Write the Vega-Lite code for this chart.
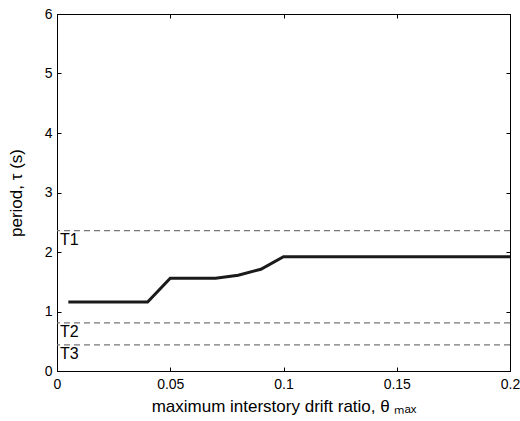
{
  "$schema": "https://vega.github.io/schema/vega-lite/v6.json",
  "width": 453,
  "height": 357,
  "autosize": {"type": "none"},
  "padding": {"left": 57, "top": 14, "right": 10, "bottom": 50},
  "background": "white",
  "config": {
    "view": {"stroke": "black", "strokeWidth": 1},
    "font": "Liberation Sans",
    "axis": {
      "grid": false,
      "domainColor": "black",
      "domainWidth": 1,
      "tickColor": "black",
      "tickWidth": 1,
      "labelColor": "black",
      "titleColor": "black",
      "labelFont": "Liberation Sans",
      "titleFont": "Liberation Sans",
      "labelFontSize": 14,
      "titleFontSize": 17,
      "titleFontWeight": "normal",
      "labelFlush": false,
      "labelOverlap": false
    }
  },
  "datasets": {
    "curve": [
      {"drift": 0.005, "period": 1.16},
      {"drift": 0.04, "period": 1.16},
      {"drift": 0.05, "period": 1.56},
      {"drift": 0.07, "period": 1.56},
      {"drift": 0.08, "period": 1.61},
      {"drift": 0.09, "period": 1.71},
      {"drift": 0.1, "period": 1.92},
      {"drift": 0.2, "period": 1.92}
    ],
    "modes": [
      {"name": "T1", "T": 2.36},
      {"name": "T2", "T": 0.81},
      {"name": "T3", "T": 0.44}
    ]
  },
  "layer": [
    {
      "data": {"name": "modes"},
      "mark": {"type": "rule", "color": "#777777", "strokeWidth": 1.3, "strokeDash": [6, 4]},
      "encoding": {
        "y": {
          "field": "T", "type": "quantitative",
          "scale": {"domain": [0, 6], "nice": false},
          "axis": {"orient": "right", "labels": false, "title": null, "tickSize": -4, "values": [0, 1, 2, 3, 4, 5, 6], "domain": true}
        }
      }
    },
    {
      "data": {"name": "modes"},
      "mark": {"type": "text", "align": "left", "baseline": "top", "dx": 3, "dy": 1, "fontSize": 16, "font": "Liberation Sans", "color": "black"},
      "encoding": {
        "x": {
          "datum": 0, "type": "quantitative",
          "scale": {"domain": [0, 0.2], "nice": false},
          "axis": {"orient": "top", "labels": false, "title": null, "tickSize": -4, "values": [0, 0.05, 0.1, 0.15, 0.2], "domain": true}
        },
        "y": {"field": "T", "type": "quantitative", "axis": null},
        "text": {"field": "name"}
      }
    },
    {
      "data": {"name": "curve"},
      "mark": {"type": "line", "color": "#1a1a1a", "strokeWidth": 3, "strokeJoin": "miter"},
      "encoding": {
        "x": {
          "field": "drift", "type": "quantitative",
          "scale": {"domain": [0, 0.2], "nice": false},
          "axis": {"orient": "bottom", "title": "maximum interstory drift ratio, θ ₘₐₓ", "values": [0, 0.05, 0.1, 0.15, 0.2], "format": "~g", "tickSize": -4, "labelPadding": 10, "titlePadding": 7}
        },
        "y": {
          "field": "period", "type": "quantitative",
          "scale": {"domain": [0, 6], "nice": false},
          "axis": {"orient": "left", "title": "period, τ (s)", "values": [0, 1, 2, 3, 4, 5, 6], "tickSize": -4, "labelPadding": 9, "titlePadding": 19}
        }
      }
    }
  ],
  "resolve": {"axis": {"x": "independent", "y": "independent"}}
}
